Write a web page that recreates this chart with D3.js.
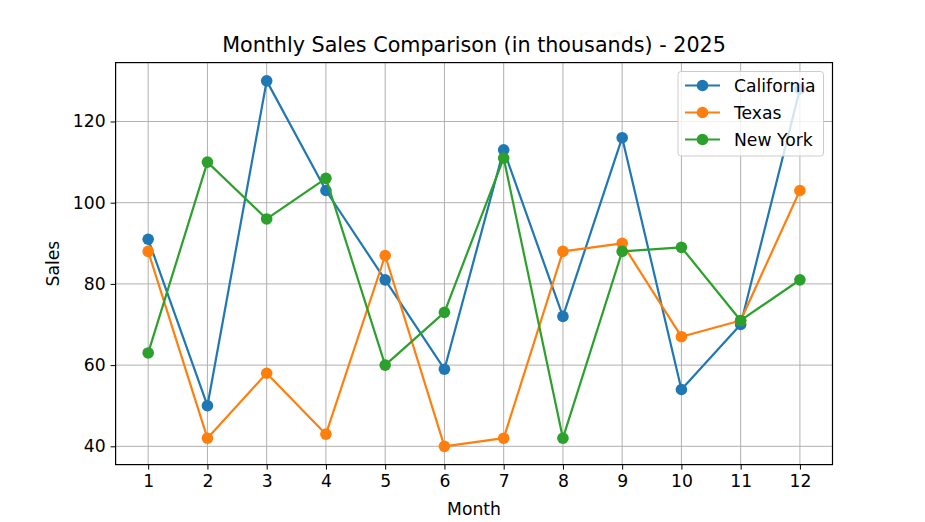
<!DOCTYPE html>
<html>
<head>
<meta charset="utf-8">
<script src="https://cdn.jsdelivr.net/npm/d3@7"></script>
<style>
body { margin: 0; background: #fff; }
text { font-family: "DejaVu Sans", sans-serif; fill: #000; }
</style>
</head>
<body>
<svg id="chart" width="925" height="522"></svg>
<script>
const months = [1,2,3,4,5,6,7,8,9,10,11,12];
const california = [91, 50, 130, 103, 81, 59, 113, 72, 116, 54, 70, 128];
const texas = [88, 42, 58, 43, 87, 40, 42, 88, 90, 67, 71, 103];
const newYork = [63, 110, 96, 106, 60, 73, 111, 42, 88, 89, 71, 81];
const seriesNames = ["California", "Texas", "New York"];
const seriesColors = ["#1f77b4", "#ff7f0e", "#2ca02c"];
const yTicks = [40, 60, 80, 100, 120];

const series = [california, texas, newYork].map((v, i) => ({name: seriesNames[i], color: seriesColors[i], values: v}));

const svg = d3.select("#chart");
const L = 115.6, R = 832.5, T = 62.6, B = 464.6;
const FS = 17.2;

const allVals = [].concat(california, texas, newYork);
const yMin = d3.min(allVals), yMax = d3.max(allVals);
const yPad = (yMax - yMin) * 0.05;
const x = d3.scaleLinear().domain([1 - 11 * 0.05, 12 + 11 * 0.05]).range([L, R]);
const y = d3.scaleLinear().domain([yMin - yPad, yMax + yPad]).range([B, T]);

// grid
const g = svg.append("g");
g.selectAll(".vg").data(months).join("line")
  .attr("x1", d => x(d)).attr("x2", d => x(d)).attr("y1", T).attr("y2", B)
  .attr("stroke", "#b0b0b0").attr("stroke-width", 1);
g.selectAll(".hg").data(yTicks).join("line")
  .attr("x1", L).attr("x2", R).attr("y1", d => y(d)).attr("y2", d => y(d))
  .attr("stroke", "#b0b0b0").attr("stroke-width", 1);

// axes
const xAxis = d3.axisBottom(x).tickValues(months).tickFormat(d3.format("d")).tickSize(5).tickPadding(5);
const yAxis = d3.axisLeft(y).tickValues(yTicks).tickSize(5).tickPadding(5);
const xa = svg.append("g").attr("transform", `translate(0,${B})`).call(xAxis);
const ya = svg.append("g").attr("transform", `translate(${L},0)`).call(yAxis);
[xa, ya].forEach(a => {
  a.select(".domain").remove();
  a.selectAll(".tick line").attr("stroke", "#000").attr("stroke-width", 1);
  a.selectAll(".tick text").attr("font-size", FS).attr("font-family", "DejaVu Sans").attr("fill", "#000");
});

// lines
const line = d3.line().x((d, i) => x(months[i])).y(d => y(d));
series.forEach(s => {
  svg.append("path").datum(s.values).attr("d", line)
    .attr("fill", "none").attr("stroke", s.color).attr("stroke-width", 2.2)
    .attr("stroke-linejoin", "round").attr("stroke-linecap", "square");
  svg.append("g").selectAll("circle").data(s.values).join("circle")
    .attr("cx", (d, i) => x(months[i])).attr("cy", d => y(d)).attr("r", 5.8)
    .attr("fill", s.color);
});

// frame
svg.append("rect").attr("x", L).attr("y", T).attr("width", R - L).attr("height", B - T)
  .attr("fill", "none").attr("stroke", "#000").attr("stroke-width", 1.2);

// title & labels
svg.append("text").attr("x", (L + R) / 2).attr("y", 52).attr("text-anchor", "middle")
  .attr("font-size", 20.7).text("Monthly Sales Comparison (in thousands) - 2025");
svg.append("text").attr("x", (L + R) / 2).attr("y", 515).attr("text-anchor", "middle")
  .attr("font-size", FS).text("Month");
svg.append("text").attr("transform", `translate(59,${(T + B) / 2}) rotate(-90)`).attr("text-anchor", "middle")
  .attr("font-size", FS).text("Sales");

// legend
const lg = svg.append("g");
lg.append("rect").attr("x", 678).attr("y", 71.5).attr("width", 145.5).attr("height", 84.5)
  .attr("rx", 3).attr("fill", "#fff").attr("fill-opacity", 0.8).attr("stroke", "#cccccc").attr("stroke-width", 1);
series.forEach((s, i) => {
  const yy = 85.5 + i * 27;
  lg.append("line").attr("x1", 685).attr("x2", 720).attr("y1", yy).attr("y2", yy)
    .attr("stroke", s.color).attr("stroke-width", 2.2);
  lg.append("circle").attr("cx", 702.5).attr("cy", yy).attr("r", 5.8).attr("fill", s.color);
  lg.append("text").attr("x", 734).attr("y", yy + 6).attr("font-size", FS).text(s.name);
});
</script>
</body>
</html>
